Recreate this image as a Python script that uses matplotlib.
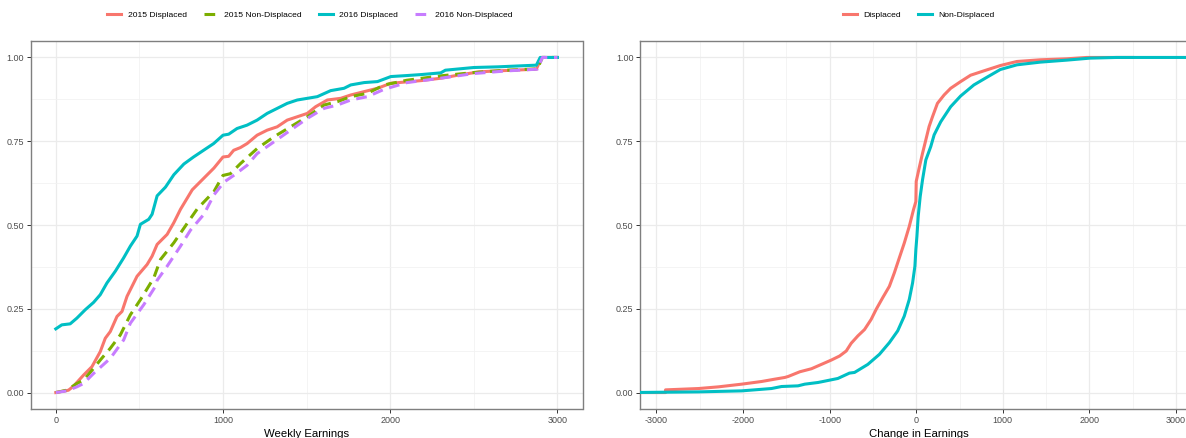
import matplotlib
matplotlib.use("Agg")
import matplotlib.pyplot as plt
from matplotlib.ticker import MultipleLocator, FormatStrFormatter

# ---------------- data: left panel (weekly earnings ECDF) ----------------
d15_x = [0, 76, 106, 166, 216, 266, 296, 326, 366, 396, 426, 456, 486, 546, 576, 606, 666, 706,
         746, 816, 886, 946, 1000, 1034, 1064, 1104, 1144, 1204, 1264, 1324, 1384, 1444, 1504,
         1554, 1624, 1704, 1764, 1844, 1924, 2004, 2073, 2187, 2302, 2416, 2531, 2645, 2874,
         2905, 3000]
d15_y = [0, 0.007, 0.019, 0.052, 0.077, 0.122, 0.162, 0.182, 0.227, 0.242, 0.287, 0.317, 0.347,
         0.382, 0.407, 0.442, 0.472, 0.507, 0.547, 0.605, 0.64, 0.67, 0.703, 0.705, 0.723, 0.731,
         0.743, 0.768, 0.783, 0.793, 0.813, 0.823, 0.833, 0.853, 0.873, 0.878, 0.888, 0.898,
         0.908, 0.923, 0.926, 0.931, 0.938, 0.948, 0.957, 0.960, 0.965, 1.0, 1.0]

n15_x = [0, 66, 126, 166, 226, 266, 326, 386, 446, 506, 586, 626, 706, 786, 846, 946, 1000, 1044,
         1104, 1204, 1304, 1404, 1504, 1604, 1684, 1764, 1864, 1964, 2100, 2300, 2500, 2700,
         2880, 2910, 3000]
n15_y = [0, 0.007, 0.027, 0.037, 0.072, 0.097, 0.132, 0.172, 0.232, 0.277, 0.342, 0.397, 0.447,
         0.505, 0.548, 0.600, 0.648, 0.653, 0.683, 0.728, 0.763, 0.793, 0.823, 0.858, 0.868,
         0.883, 0.893, 0.918, 0.932, 0.945, 0.955, 0.962, 0.966, 1.0, 1.0]

d16_x = [0, 36, 86, 126, 176, 226, 266, 306, 356, 406, 446, 486, 506, 556, 576, 606, 656, 706,
         766, 824, 884, 944, 1000, 1034, 1084, 1144, 1204, 1264, 1324, 1384, 1444, 1504, 1564,
         1644, 1724, 1764, 1844, 1924, 2004, 2100, 2187, 2302, 2330, 2500, 2645, 2874, 2897, 3000]
d16_y = [0.19, 0.202, 0.205, 0.222, 0.247, 0.269, 0.292, 0.327, 0.362, 0.402, 0.437, 0.467, 0.502,
         0.517, 0.532, 0.587, 0.613, 0.65, 0.682, 0.703, 0.723, 0.743, 0.768, 0.771, 0.788,
         0.798, 0.813, 0.833, 0.848, 0.863, 0.873, 0.878, 0.883, 0.901, 0.908, 0.918, 0.925,
         0.928, 0.943, 0.946, 0.949, 0.954, 0.962, 0.970, 0.972, 0.977, 1.0, 1.0]

n16_x = [0, 66, 126, 166, 226, 326, 406, 446, 526, 596, 606, 666, 746, 806, 886, 946, 1006, 1064,
         1144, 1204, 1304, 1404, 1504, 1604, 1684, 1764, 1864, 1964, 2100, 2300, 2500, 2700,
         2880, 2910, 3000]
n16_y = [0, 0.005, 0.017, 0.027, 0.057, 0.102, 0.157, 0.207, 0.262, 0.317, 0.335, 0.377, 0.437,
         0.485, 0.532, 0.59, 0.628, 0.648, 0.678, 0.713, 0.748, 0.783, 0.818, 0.848, 0.858,
         0.873, 0.883, 0.905, 0.925, 0.938, 0.952, 0.960, 0.965, 1.0, 1.0]

left_labels = ["2015 Displaced", "2015 Non-Displaced", "2016 Displaced", "2016 Non-Displaced"]

# ---------------- data: right panel (change in earnings ECDF) ----------------
disp_x = [-3300, -2895, -2895, -2513, -2284, -2016, -1785, -1632, -1518, -1478, -1344, -1210, -1095,
          -980, -885, -808, -751, -674, -597, -521, -463, -387, -310, -253, -195, -138, -80,
          -31, -4, 0, 34, 73, 111, 149, 188, 245, 322, 398, 513, 628, 781, 973, 1163, 1431,
          1738, 1968, 2500]
disp_y = [0, 0, 0.008, 0.012, 0.017, 0.025, 0.033, 0.040, 0.045, 0.048, 0.062, 0.071, 0.084,
          0.097, 0.109, 0.124, 0.147, 0.169, 0.188, 0.218, 0.248, 0.283, 0.317, 0.357, 0.402,
          0.446, 0.496, 0.546, 0.570, 0.630, 0.670, 0.714, 0.754, 0.794, 0.823, 0.863, 0.888,
          0.908, 0.928, 0.947, 0.960, 0.976, 0.988, 0.993, 0.996, 1.0, 1.0]

nond_x = [-3300, -2513, -2016, -1671, -1555, -1365, -1287, -1135, -1095, -905, -771, -712, -559,
          -425, -310, -214, -138, -80, -42, -15, -4, 8, 23, 46, 73, 111, 168, 207, 283, 398,
          513, 666, 817, 971, 1163, 1431, 1738, 2007, 2314, 3400]
nond_y = [0, 0.002, 0.005, 0.012, 0.018, 0.020, 0.025, 0.030, 0.032, 0.042, 0.058, 0.060, 0.084,
          0.114, 0.149, 0.184, 0.228, 0.278, 0.327, 0.377, 0.427, 0.466, 0.526, 0.585, 0.635,
          0.694, 0.734, 0.769, 0.808, 0.853, 0.885, 0.918, 0.941, 0.964, 0.978, 0.986, 0.992,
          0.998, 1.0, 1.0]

right_labels = ["Displaced", "Non-Displaced"]

RED, GREEN, CYAN, PURPLE = "#F8766D", "#7CAE00", "#00BFC4", "#C77CFF"

plt.rcParams["font.family"] = ["Liberation Sans", "DejaVu Sans"]
plt.rcParams["axes.unicode_minus"] = False

W, H = 1186, 438
fig = plt.figure(figsize=(W / 100, H / 100), dpi=100)


def px_axes(l, r, t, b):
    return fig.add_axes([l / W, 1 - b / H, (r - l) / W, (b - t) / H])


def style(ax):
    ax.set_facecolor("white")
    ax.set_ylim(-0.05, 1.05)
    ax.yaxis.set_major_locator(MultipleLocator(0.25))
    ax.yaxis.set_minor_locator(MultipleLocator(0.125))
    ax.yaxis.set_major_formatter(FormatStrFormatter("%.2f"))
    ax.xaxis.set_major_locator(MultipleLocator(1000))
    ax.xaxis.set_minor_locator(MultipleLocator(500))
    ax.grid(which="major", color="#EBEBEB", lw=0.9, zorder=0)
    ax.grid(which="minor", color="#F2F2F2", lw=0.6, zorder=0)
    ax.set_axisbelow(True)
    for s in ax.spines.values():
        s.set_color("#7F7F7F")
        s.set_linewidth(1.0)
    ax.tick_params(which="major", length=2.7, width=0.7, color="#333333",
                   labelsize=6.5, labelcolor="#4D4D4D", pad=2.2)
    ax.tick_params(which="minor", length=0)


LW = 2.2
LEG = dict(frameon=False, fontsize=6.1, handlelength=1.65, handletextpad=0.75,
           columnspacing=2.0, loc="center", bbox_transform=fig.transFigure)

# left panel
ax1 = px_axes(30.7, 582.5, 40.7, 409.3)
style(ax1)
ax1.set_xlim(-150, 3150)
ax1.plot(d15_x, d15_y, color=RED, lw=LW, label=left_labels[0], zorder=3)
ax1.plot(n15_x, n15_y, color=GREEN, lw=LW, ls=(0, (3.5, 2.2)), label=left_labels[1], zorder=3)
ax1.plot(d16_x, d16_y, color=CYAN, lw=LW, label=left_labels[2], zorder=3)
ax1.plot(n16_x, n16_y, color=PURPLE, lw=LW, ls=(0, (3.5, 2.2)), label=left_labels[3], zorder=3)
ax1.set_xlabel("Weekly Earnings", fontsize=8.2, color="black", labelpad=2.5)
ax1.legend(bbox_to_anchor=(310 / W, 1 - 14.7 / H), ncol=4, **LEG)

# right panel
ax2 = px_axes(640.4, 1198, 40.7, 409.3)
style(ax2)
ax2.set_xlim(-3185, 3254)
ax2.plot(disp_x, disp_y, color=RED, lw=LW, label=right_labels[0], zorder=3)
ax2.plot(nond_x, nond_y, color=CYAN, lw=LW, label=right_labels[1], zorder=3)
ax2.set_xlabel("Change in Earnings", fontsize=8.2, color="black", labelpad=2.5)
ax2.legend(bbox_to_anchor=(919 / W, 1 - 14.7 / H), ncol=2, **LEG)

fig.savefig("out.png", dpi=100, facecolor="white")
